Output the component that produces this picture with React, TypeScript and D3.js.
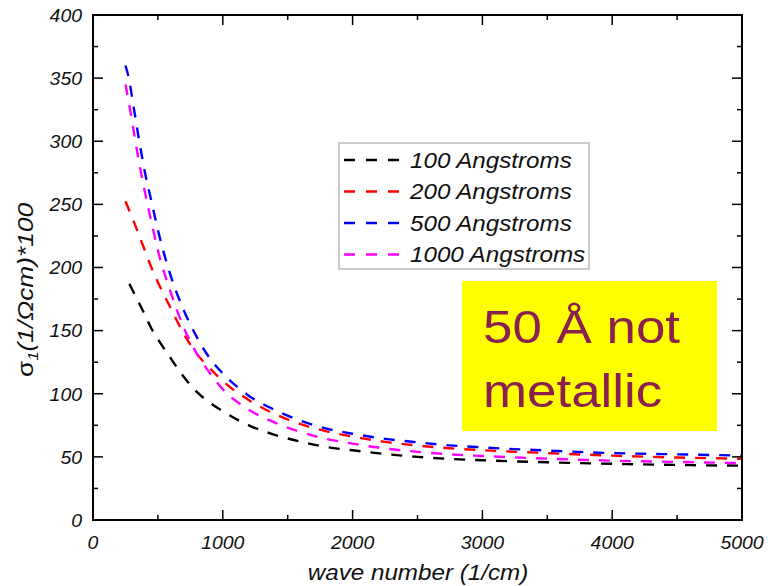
import React from "react";
import * as d3 from "d3";

const xGrid = [250, 280, 300, 350, 400, 450, 500, 600, 700, 800, 900, 1000, 1200, 1400, 1600, 1800, 2000, 2250, 2500, 2750, 3000, 3500, 4000, 4500, 5000];
const s100 = [null, 187, 183, 172.8, 162.5, 151.7, 143.3, 127.9, 113.3, 101.5, 92.9, 86.1, 75, 67.5, 62, 57.8, 55.2, 52.3, 50, 48.4, 47.3, 45.7, 44.5, 43.6, 43];
const s200 = [252.5, 245, 240, 227, 213.3, 200, 188.3, 167.5, 147.5, 131.6, 120.2, 110, 95.1, 84, 75.9, 70.2, 66.1, 61.9, 59, 56.8, 55.3, 53, 51, 49.5, 48.5];
const s500 = [360, 348, 335.5, 304, 275.5, 252.5, 229.8, 193, 166, 144.9, 128.1, 116.1, 98.5, 87.2, 78.6, 72.4, 68.3, 64.3, 61.5, 59.1, 57.5, 55, 53, 52, 51];
const s1000 = [345, 328.5, 316.5, 286, 259.7, 236, 213.5, 180, 152.3, 131.8, 116.4, 103.5, 87.4, 77.2, 69.7, 64.2, 60.5, 56.6, 54, 52, 50.7, 48.6, 47, 46, 45];

const seriesNames = ["100 Angstroms", "200 Angstroms", "500 Angstroms", "1000 Angstroms"];
const seriesColors = ["#000000", "#ff0000", "#0000ff", "#ff00ff"];
const seriesValues = [s100, s200, s500, s1000];

const xTickValues = [0, 1000, 2000, 3000, 4000, 5000];
const xMinorValues = [500, 1500, 2500, 3500, 4500];
const yTickValues = [0, 50, 100, 150, 200, 250, 300, 350, 400];
const yMinorValues = [25, 75, 125, 175, 225, 275, 325, 375];

const L = 93, R = 742, T = 15, B = 520;
const S = 1.08;

export default function App() {
  const x = d3.scaleLinear().domain([0, 5000]).range([L, R]);
  const y = d3.scaleLinear().domain([0, 400]).range([B, T]);
  const line = d3
    .line<[number, number | null]>()
    .defined((d) => d[1] != null)
    .x((d) => x(d[0]))
    .y((d) => y(d[1] as number))
    .curve(d3.curveMonotoneX);

  const font = "'Liberation Sans', Arial, sans-serif";
  const legendRows = [160, 191.5, 223, 254.5];

  return (
    <svg width={768} height={586} style={{ position: "absolute", left: 0, top: 0, background: "#fff" }} fontFamily={font}>
      <rect x={0} y={0} width={768} height={586} fill="#fff" />
      <defs>
        <clipPath id="clip">
          <rect x={L} y={T} width={R - L} height={B - T} />
        </clipPath>
      </defs>
      {/* curves */}
      <g clipPath="url(#clip)">
        {seriesValues.map((vals, i) => (
          <path
            key={i}
            d={line(xGrid.map((xv, j) => [xv, vals[j]] as [number, number | null])) || ""}
            fill="none"
            stroke={seriesColors[i]}
            strokeWidth={2.4}
            strokeDasharray="11,10"
          />
        ))}
      </g>
      {/* frame */}
      <rect x={L} y={T} width={R - L} height={B - T} fill="none" stroke="#000" strokeWidth={2} />
      {/* x ticks */}
      {xTickValues.map((v) => (
        <g key={"xt" + v}>
          <line x1={x(v)} x2={x(v)} y1={B} y2={B - 10} stroke="#000" strokeWidth={1.5} />
          <line x1={x(v)} x2={x(v)} y1={T} y2={T + 10} stroke="#000" strokeWidth={1.5} />
          <g transform={`translate(${x(v)},549) scale(${S},1)`}>
            <text textAnchor="middle" fontSize={18} fontStyle="italic" fill="#111">{String(v)}</text>
          </g>
        </g>
      ))}
      {xMinorValues.map((v) => (
        <g key={"xm" + v}>
          <line x1={x(v)} x2={x(v)} y1={B} y2={B - 5} stroke="#000" strokeWidth={1.5} />
          <line x1={x(v)} x2={x(v)} y1={T} y2={T + 5} stroke="#000" strokeWidth={1.5} />
        </g>
      ))}
      {/* y ticks */}
      {yTickValues.map((v) => (
        <g key={"yt" + v}>
          <line x1={L} x2={L + 10} y1={y(v)} y2={y(v)} stroke="#000" strokeWidth={1.5} />
          <line x1={R} x2={R - 10} y1={y(v)} y2={y(v)} stroke="#000" strokeWidth={1.5} />
          <g transform={`translate(82,${y(v) + 6.8}) scale(${S},1)`}>
            <text textAnchor="end" fontSize={18} fontStyle="italic" fill="#111">{String(v)}</text>
          </g>
        </g>
      ))}
      {yMinorValues.map((v) => (
        <g key={"ym" + v}>
          <line x1={L} x2={L + 5} y1={y(v)} y2={y(v)} stroke="#000" strokeWidth={1.5} />
          <line x1={R} x2={R - 5} y1={y(v)} y2={y(v)} stroke="#000" strokeWidth={1.5} />
        </g>
      ))}
      {/* axis titles */}
      <g transform={`translate(418,580) scale(1.1,1)`}>
        <text textAnchor="middle" fontSize={22} fontStyle="italic" fill="#111">wave number (1/cm)</text>
      </g>
      <text
        transform="translate(33,290) rotate(-90)"
        textAnchor="middle"
        fontSize={22}
        fontStyle="italic"
        fill="#111"
        textLength={174}
        lengthAdjust="spacingAndGlyphs"
      >
        <tspan fontStyle="normal">σ</tspan>
        <tspan fontSize={14} dy={5}>1</tspan>
        <tspan dy={-5}>(1/Ωcm)*100</tspan>
      </text>
      {/* legend */}
      <rect x={339} y={143} width={250} height={126} fill="#fff" stroke="#999" strokeWidth={1} />
      {seriesNames.map((name, i) => (
        <g key={name}>
          <line x1={344} x2={399} y1={legendRows[i]} y2={legendRows[i]} stroke={seriesColors[i]} strokeWidth={2.4} strokeDasharray="11,11" />
          <g transform={`translate(410,${legendRows[i] + 7.8}) scale(1.12,1)`}>
            <text fontSize={21.6} fontStyle="italic" fill="#111">{name}</text>
          </g>
        </g>
      ))}
      {/* yellow annotation */}
      <rect x={462} y={281} width={255} height={150} fill="#ffff00" />
      <g transform={`translate(483,343) scale(1.15,1)`}>
        <text fontSize={46} fill="#8b2050">50 Å not</text>
      </g>
      <g transform={`translate(483,407) scale(1.15,1)`}>
        <text fontSize={46} fill="#8b2050">metallic</text>
      </g>
    </svg>
  );
}
